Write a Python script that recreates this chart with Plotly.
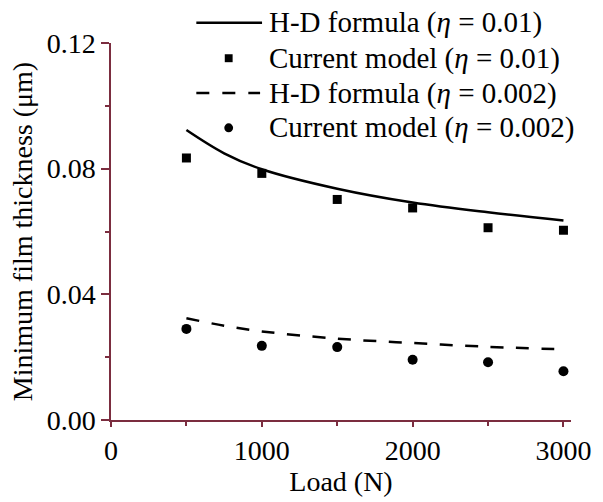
import plotly.graph_objects as go

# Measured minimum film thickness (um) vs. load (N)
load = [500, 1000, 1500, 2000, 2500, 3000]
model_eta_001 = [0.0834, 0.0785, 0.0702, 0.0675, 0.0612, 0.0604]
model_eta_0002 = [0.0290, 0.0236, 0.0232, 0.0192, 0.0184, 0.0155]

# Hamrock-Dowson formula curves
load_hd = [500, 750, 1000, 1500, 2000, 2500, 3000]
hd_eta_001 = [0.0923, 0.0849, 0.0798, 0.0736, 0.0692, 0.0661, 0.0635]
hd_eta_0002 = [0.0324, 0.0300, 0.0282, 0.0259, 0.0245, 0.0233, 0.0225]

x_ticks = [0, 1000, 2000, 3000]
y_ticks = [0.00, 0.04, 0.08, 0.12]
y_tick_text = ["0.00", "0.04", "0.08", "0.12"]

legend_labels = [
    "H-D formula (<i>η</i> = 0.01)",
    "Current model (<i>η</i> = 0.01)",
    "H-D formula (<i>η</i> = 0.002)",
    "Current model (<i>η</i> = 0.002)",
]

FONT = "Liberation Serif, Times New Roman, serif"
AXIS_COLOR = "#7b2d3f"
W, H = 603, 502
L, R, T, B = 111, 23, 43, 80

fig = go.Figure()
fig.add_trace(go.Scatter(x=load_hd, y=hd_eta_001, mode="lines",
                         line=dict(color="black", width=2.5, shape="spline"),
                         showlegend=False))
fig.add_trace(go.Scatter(x=load, y=model_eta_001, mode="markers",
                         marker=dict(symbol="square", size=9, color="black"),
                         showlegend=False))
fig.add_trace(go.Scatter(x=load_hd, y=hd_eta_0002, mode="lines",
                         line=dict(color="black", width=2.5, shape="spline",
                                   dash="13px,12.5px"),
                         showlegend=False))
fig.add_trace(go.Scatter(x=load, y=model_eta_0002, mode="markers",
                         marker=dict(symbol="circle", size=10, color="black"),
                         showlegend=False))

# Legend drawn by hand so the line samples keep their long form
pw, ph = W - L - R, H - T - B


def px(x):
    return (x - L) / pw


def py(y):
    return (H - B - y) / ph


rows = [22.7, 58.3, 93.3, 128.3]
sample_x0, sample_x1, mark_x, text_x = 198, 265, 231, 270

shapes = []
# solid line sample
shapes.append(dict(type="line", xref="paper", yref="paper",
                   x0=px(sample_x0), x1=px(sample_x1), y0=py(rows[0]), y1=py(rows[0]),
                   line=dict(color="black", width=2.5)))
# dashed line sample
shapes.append(dict(type="line", xref="paper", yref="paper",
                   x0=px(sample_x0), x1=px(sample_x1 - 2), y0=py(rows[2]), y1=py(rows[2]),
                   line=dict(color="black", width=2.5, dash="13px,13px")))
# square marker sample
s = 4
shapes.append(dict(type="rect", xref="paper", yref="paper",
                   x0=px(mark_x - s), x1=px(mark_x + s),
                   y0=py(rows[1] + s), y1=py(rows[1] - s),
                   fillcolor="black", line=dict(width=0)))
# circle marker sample
c = 4.5
shapes.append(dict(type="circle", xref="paper", yref="paper",
                   x0=px(mark_x - c), x1=px(mark_x + c),
                   y0=py(rows[3] + c), y1=py(rows[3] - c),
                   fillcolor="black", line=dict(width=0)))

annotations = []
for label, ry in zip(legend_labels, rows):
    annotations.append(dict(text=label, xref="paper", yref="paper",
                            x=px(text_x), y=py(ry), xanchor="left", yanchor="middle",
                            showarrow=False,
                            font=dict(family=FONT, size=29, color="black")))

fig.update_layout(
    width=W, height=H,
    margin=dict(l=L, r=R, t=T, b=B, pad=0),
    paper_bgcolor="white", plot_bgcolor="white",
    font=dict(family=FONT, size=28, color="black"),
    shapes=shapes, annotations=annotations,
)

fig.update_xaxes(
    range=[0, 3050], tickvals=x_ticks, ticks="outside", ticklen=5, tickwidth=1.5,
    tickcolor=AXIS_COLOR, showline=True, linecolor=AXIS_COLOR, linewidth=1.5,
    showgrid=False, zeroline=False,
    minor=dict(tickvals=[500, 1500, 2500], ticks="outside", ticklen=4,
               tickwidth=1.5, tickcolor=AXIS_COLOR, showgrid=False),
    title=dict(text="Load (N)", font=dict(family=FONT, size=28), standoff=4),
    tickfont=dict(family=FONT, size=28),
)
fig.update_yaxes(
    range=[0, 0.12], tickvals=y_ticks, ticktext=y_tick_text, ticks="outside",
    ticklen=8, tickwidth=1.5, tickcolor=AXIS_COLOR, showline=True,
    linecolor=AXIS_COLOR, linewidth=1.5, showgrid=False, zeroline=False,
    minor=dict(tickvals=[0.02, 0.06, 0.10], ticks="outside", ticklen=4,
               tickwidth=1.5, tickcolor=AXIS_COLOR, showgrid=False),
    title=dict(text="Minimum film thickness (μm)", font=dict(family=FONT, size=28),
               standoff=6),
    tickfont=dict(family=FONT, size=28),
)

fig.write_html("out.html")
